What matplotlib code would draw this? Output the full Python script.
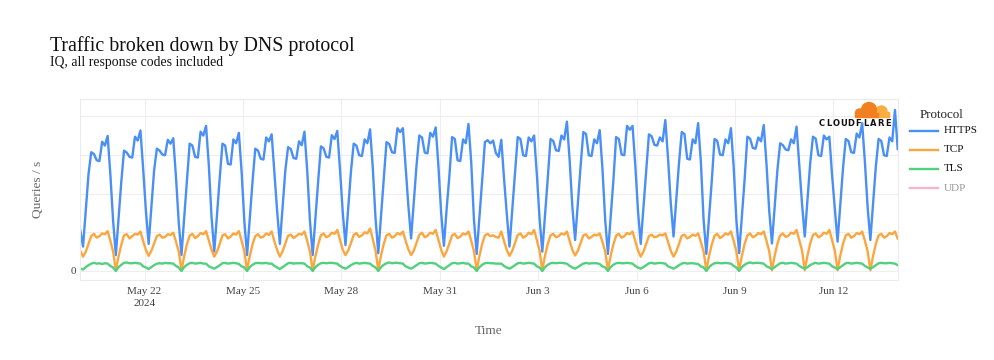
import numpy as np
import pandas as pd
import matplotlib
matplotlib.use("Agg")
import matplotlib.pyplot as plt
from matplotlib.lines import Line2D
from matplotlib.patches import Circle, Rectangle

# two-hourly samples (01:00, 03:00, ... 23:00), one day per line, May 20 -> Jun 13 2024
start = "2024-05-20 01:00"

https = [
    1.05, 0.63, 1.58, 2.50, 3.07, 3.02, 2.86, 2.84, 3.34, 3.24, 3.49, 2.49,
    1.30, 0.41, 1.36, 2.31, 3.11, 3.06, 2.95, 2.93, 3.47, 3.37, 3.63, 2.63,
    1.55, 0.70, 1.65, 2.60, 3.16, 3.11, 3.01, 2.99, 3.39, 3.29, 3.43, 2.43,
    1.26, 0.41, 1.36, 2.31, 3.29, 3.24, 2.95, 2.93, 3.60, 3.50, 3.75, 2.75,
    1.40, 0.50, 1.45, 2.40, 3.29, 3.24, 2.77, 2.75, 3.40, 3.30, 3.57, 2.57,
    1.30, 0.41, 1.36, 2.31, 3.16, 3.11, 2.90, 2.88, 3.45, 3.35, 3.53, 2.53,
    1.55, 0.70, 1.65, 2.60, 3.20, 3.15, 2.92, 2.90, 3.35, 3.25, 3.60, 2.60,
    1.30, 0.41, 1.36, 2.31, 3.22, 3.17, 2.95, 2.93, 3.51, 3.41, 3.62, 2.62,
    1.52, 0.67, 1.62, 2.57, 3.29, 3.24, 2.99, 2.97, 3.40, 3.30, 3.66, 2.66,
    1.35, 0.46, 1.41, 2.36, 3.33, 3.28, 3.07, 3.05, 3.69, 3.59, 3.69, 2.69,
    1.69, 0.84, 1.79, 2.74, 3.50, 3.45, 3.06, 3.04, 3.57, 3.47, 3.71, 2.71,
    1.50, 0.65, 1.60, 2.45, 3.46, 3.41, 2.86, 2.84, 3.40, 3.30, 3.80, 2.80,
    1.32, 0.44, 1.39, 2.34, 3.33, 3.38, 3.30, 3.37, 3.05, 2.95, 3.39, 2.39,
    1.48, 0.63, 1.58, 2.53, 3.46, 3.41, 2.99, 2.97, 3.45, 3.35, 3.50, 2.50,
    1.35, 0.50, 1.45, 2.40, 3.41, 3.36, 3.12, 3.10, 3.50, 3.40, 3.86, 2.86,
    1.65, 0.80, 1.75, 2.70, 3.59, 3.54, 2.99, 2.97, 3.40, 3.30, 3.64, 2.64,
    1.32, 0.44, 1.39, 2.34, 3.46, 3.41, 3.01, 2.99, 3.75, 3.65, 3.75, 2.75,
    1.55, 0.70, 1.65, 2.60, 3.53, 3.48, 3.26, 3.24, 3.45, 3.35, 3.90, 2.90,
    1.74, 0.89, 1.84, 2.79, 3.59, 3.54, 2.90, 2.88, 3.40, 3.30, 3.82, 2.82,
    1.32, 0.44, 1.39, 2.34, 3.41, 3.36, 3.01, 2.99, 3.40, 3.30, 3.69, 2.69,
    1.31, 0.46, 1.41, 2.36, 3.47, 3.42, 3.18, 3.16, 3.45, 3.35, 3.77, 2.77,
    1.56, 0.71, 1.66, 2.61, 3.30, 3.25, 3.14, 3.12, 3.40, 3.30, 3.73, 2.73,
    1.74, 0.89, 1.84, 2.79, 3.47, 3.42, 2.99, 2.97, 3.50, 3.40, 3.47, 2.47,
    1.61, 0.76, 1.71, 2.66, 3.41, 3.36, 3.07, 3.05, 3.55, 3.45, 3.82, 2.82,
    1.65, 0.80, 1.75, 2.70, 3.41, 3.36, 2.99, 2.97, 3.45, 3.35, 4.16, 3.15,
]

tcp = [
    0.52, 0.37, 0.50, 0.70, 0.90, 0.96, 0.86, 0.90, 0.97, 0.95, 1.03, 0.78,
    0.50, 0.02, 0.38, 0.68, 0.92, 0.95, 0.84, 0.90, 0.96, 0.94, 1.02, 0.77,
    0.54, 0.39, 0.52, 0.71, 0.90, 0.94, 0.86, 0.88, 0.95, 0.93, 0.99, 0.76,
    0.50, 0.02, 0.38, 0.69, 0.91, 0.96, 0.85, 0.90, 0.98, 0.95, 1.03, 0.79,
    0.55, 0.37, 0.50, 0.70, 0.92, 0.95, 0.84, 0.89, 0.97, 0.94, 1.03, 0.78,
    0.51, 0.02, 0.39, 0.69, 0.90, 0.95, 0.86, 0.89, 0.97, 0.93, 1.02, 0.77,
    0.54, 0.37, 0.51, 0.71, 0.91, 0.94, 0.85, 0.90, 0.96, 0.94, 1.02, 0.78,
    0.50, 0.02, 0.38, 0.68, 0.92, 0.97, 0.87, 0.91, 0.99, 0.96, 1.06, 0.80,
    0.55, 0.41, 0.53, 0.72, 0.93, 0.98, 0.88, 0.92, 1.00, 0.97, 1.10, 0.82,
    0.52, 0.03, 0.40, 0.70, 0.92, 0.96, 0.86, 0.90, 0.98, 0.94, 1.02, 0.78,
    0.56, 0.41, 0.53, 0.73, 0.93, 0.99, 0.87, 0.91, 0.99, 0.96, 1.06, 0.80,
    0.55, 0.37, 0.51, 0.71, 0.92, 0.96, 0.85, 0.89, 0.97, 0.94, 1.02, 0.78,
    0.51, 0.02, 0.39, 0.70, 0.92, 0.96, 0.90, 0.92, 0.88, 0.86, 1.02, 0.77,
    0.54, 0.39, 0.52, 0.72, 0.93, 0.97, 0.86, 0.90, 0.99, 0.95, 1.06, 0.80,
    0.52, 0.02, 0.40, 0.70, 0.92, 0.96, 0.87, 0.90, 0.97, 0.94, 1.02, 0.78,
    0.54, 0.40, 0.52, 0.72, 0.92, 0.95, 0.84, 0.88, 0.94, 0.92, 0.97, 0.75,
    0.50, 0.02, 0.39, 0.69, 0.91, 0.96, 0.86, 0.90, 0.98, 0.95, 1.02, 0.78,
    0.53, 0.37, 0.50, 0.70, 0.90, 0.94, 0.87, 0.89, 0.94, 0.92, 0.97, 0.75,
    0.52, 0.37, 0.50, 0.70, 0.91, 0.94, 0.84, 0.88, 0.94, 0.91, 0.97, 0.75,
    0.50, 0.02, 0.39, 0.69, 0.91, 0.96, 0.85, 0.90, 0.97, 0.94, 1.02, 0.78,
    0.50, 0.02, 0.39, 0.70, 0.92, 0.97, 0.87, 0.91, 0.98, 0.95, 1.02, 0.78,
    0.51, 0.02, 0.40, 0.70, 0.92, 0.97, 0.88, 0.91, 0.99, 0.96, 1.06, 0.80,
    0.53, 0.02, 0.40, 0.71, 0.93, 0.97, 0.87, 0.91, 0.99, 0.96, 1.06, 0.80,
    0.53, 0.02, 0.40, 0.70, 0.92, 0.96, 0.86, 0.90, 0.98, 0.95, 1.02, 0.78,
    0.51, 0.02, 0.39, 0.70, 0.92, 0.96, 0.86, 0.90, 0.98, 0.95, 1.02, 0.84,
]

tls = [
    0.06, 0.04, 0.10, 0.15, 0.19, 0.21, 0.19, 0.20, 0.18, 0.20, 0.19, 0.13,
    0.09, 0.00, 0.10, 0.16, 0.21, 0.22, 0.20, 0.20, 0.21, 0.20, 0.19, 0.12,
    0.09, 0.05, 0.10, 0.15, 0.19, 0.20, 0.19, 0.21, 0.20, 0.20, 0.19, 0.13,
    0.09, 0.00, 0.10, 0.16, 0.20, 0.21, 0.19, 0.20, 0.21, 0.19, 0.19, 0.12,
    0.09, 0.06, 0.10, 0.15, 0.20, 0.21, 0.19, 0.20, 0.21, 0.20, 0.18, 0.12,
    0.09, 0.00, 0.10, 0.16, 0.20, 0.21, 0.20, 0.20, 0.21, 0.19, 0.19, 0.13,
    0.09, 0.05, 0.10, 0.15, 0.20, 0.21, 0.19, 0.20, 0.20, 0.20, 0.19, 0.12,
    0.09, 0.00, 0.10, 0.16, 0.20, 0.21, 0.20, 0.21, 0.21, 0.20, 0.19, 0.13,
    0.09, 0.06, 0.10, 0.15, 0.19, 0.21, 0.19, 0.20, 0.21, 0.20, 0.19, 0.13,
    0.09, 0.00, 0.10, 0.16, 0.20, 0.22, 0.20, 0.21, 0.21, 0.20, 0.19, 0.12,
    0.09, 0.06, 0.10, 0.15, 0.20, 0.21, 0.19, 0.20, 0.21, 0.20, 0.19, 0.13,
    0.09, 0.05, 0.10, 0.15, 0.20, 0.21, 0.19, 0.20, 0.21, 0.19, 0.19, 0.12,
    0.09, 0.00, 0.10, 0.16, 0.20, 0.21, 0.20, 0.20, 0.19, 0.19, 0.19, 0.13,
    0.09, 0.06, 0.10, 0.15, 0.20, 0.21, 0.19, 0.20, 0.21, 0.20, 0.19, 0.12,
    0.09, 0.00, 0.10, 0.16, 0.20, 0.21, 0.20, 0.21, 0.21, 0.20, 0.19, 0.13,
    0.09, 0.06, 0.10, 0.15, 0.19, 0.21, 0.19, 0.20, 0.20, 0.20, 0.18, 0.12,
    0.09, 0.00, 0.10, 0.16, 0.20, 0.21, 0.20, 0.20, 0.21, 0.20, 0.19, 0.13,
    0.09, 0.06, 0.10, 0.15, 0.20, 0.21, 0.19, 0.20, 0.21, 0.20, 0.19, 0.12,
    0.09, 0.06, 0.10, 0.15, 0.19, 0.21, 0.19, 0.20, 0.20, 0.19, 0.18, 0.12,
    0.09, 0.00, 0.10, 0.16, 0.20, 0.21, 0.20, 0.20, 0.21, 0.20, 0.19, 0.13,
    0.09, 0.00, 0.10, 0.16, 0.20, 0.22, 0.20, 0.21, 0.21, 0.20, 0.19, 0.12,
    0.09, 0.05, 0.10, 0.15, 0.20, 0.21, 0.19, 0.20, 0.21, 0.20, 0.19, 0.13,
    0.09, 0.06, 0.10, 0.15, 0.19, 0.21, 0.19, 0.20, 0.21, 0.20, 0.19, 0.12,
    0.09, 0.05, 0.10, 0.15, 0.20, 0.21, 0.19, 0.20, 0.21, 0.20, 0.19, 0.13,
    0.09, 0.06, 0.10, 0.15, 0.20, 0.21, 0.20, 0.20, 0.21, 0.20, 0.19, 0.15,
]

protocols = ["HTTPS", "TCP", "TLS", "UDP"]
colors = ["#4a8ff5", "#fba63e", "#52d07e", "#f6b5cf"]

tick_dates = ["2024-05-22", "2024-05-25", "2024-05-28", "2024-05-31",
              "2024-06-03", "2024-06-06", "2024-06-09", "2024-06-12"]
tick_labels = ["May 22\n2024", "May 25", "May 28", "May 31",
               "Jun 3", "Jun 6", "Jun 9", "Jun 12"]

times = pd.date_range(start, periods=len(https), freq="2h")

plt.rcParams["font.family"] = ["Liberation Serif", "DejaVu Serif"]

fig = plt.figure(figsize=(9.94, 3.6), dpi=100)
ax = fig.add_axes([80.3 / 994, 80 / 360, 817.4 / 994, 181 / 360])

ax.plot(times, https, color=colors[0], lw=1.7, solid_joinstyle="round")
ax.plot(times, tcp, color=colors[1], lw=1.7, solid_joinstyle="round")
ax.plot(times, tls, color=colors[2], lw=1.7, solid_joinstyle="round")

ax.set_xlim(times[0], times[-1])
ax.set_ylim(-0.233, 4.444)

ax.set_xticks(pd.to_datetime(tick_dates))
ax.set_xticklabels(tick_labels)
for t in ax.get_xticklabels():
    t.set_linespacing(1.5)
ax.set_yticks([0, 1, 2, 3, 4])
ax.set_yticklabels(["0", "", "", "", ""])
ax.tick_params(length=0, labelsize=8, labelcolor="#444444")
ax.tick_params(axis="x", pad=5)
ax.tick_params(axis="y", pad=3)
ax.grid(True, color="#eeeeee", lw=0.8)
ax.set_axisbelow(True)
for s in ax.spines.values():
    s.set_color("#ebebeb")
    s.set_linewidth(0.8)

ax.set_xlabel("Time", fontsize=9.6, color="#666666")
ax.xaxis.set_label_coords(0.5, -0.25)
ax.set_ylabel("Queries / s", fontsize=9.6, color="#666666")
ax.yaxis.set_label_coords(-0.045, 0.5)

fig.text(50 / 994, 1 - 50.7 / 360, "Traffic broken down by DNS protocol",
         fontsize=14.3, color="#111111", va="baseline")
fig.text(50 / 994, 1 - 66 / 360, "IQ, all response codes included",
         fontsize=9.9, color="#111111", va="baseline")

# legend, drawn plotly-style to the right of the plot
fig.text(920 / 994, 1 - 118 / 360, "Protocol", fontsize=9.4, color="#222222",
         va="baseline")
for i, name in enumerate(protocols):
    y = 1 - (130.5 + i * 19.2) / 360
    fig.add_artist(Line2D([910 / 994, 938 / 994], [y, y], color=colors[i], lw=1.7))
    fig.text(944 / 994, y, name, fontsize=8, va="center",
             color="#999999" if name == "UDP" else "#111111")

# cloudflare mark in the top right corner of the plot
tr = fig.dpi_scale_trans
def px(x, y):
    return (x / 100, (360 - y) / 100)

for c in [Circle(px(881.5, 111.5), 0.055, color="#fbad41"),
          Rectangle(px(872, 116.5), 0.165, 0.05, color="#fbad41"),
          Circle(px(869, 110), 0.075, color="#f38020"),
          Circle(px(859.5, 113), 0.04, color="#f38020"),
          Rectangle(px(855, 116.5), 0.23, 0.04, color="#f38020")]:
    c.set_transform(tr)
    fig.add_artist(c)
for i, ch in enumerate("CLOUDFLARE"):
    fig.text((821.5 + i * 7.4) / 994, 1 - 123.7 / 360, ch, fontsize=6,
             color="#111111", family="DejaVu Sans", weight="bold",
             ha="center", va="center")

fig.savefig("out.png", dpi=100)
